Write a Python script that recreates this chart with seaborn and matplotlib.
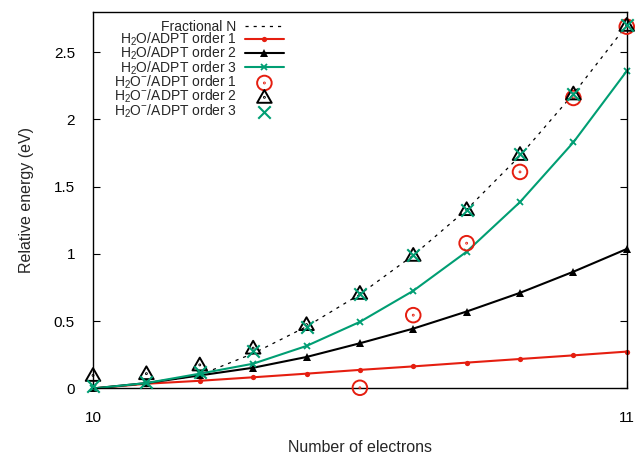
import matplotlib
matplotlib.use("Agg")
import matplotlib.pyplot as plt
import numpy as np
import seaborn as sns
from matplotlib.path import Path
from matplotlib.ticker import FormatStrFormatter


N_ELECTRONS = [10.0, 10.1, 10.2, 10.3, 10.4, 10.5, 10.6, 10.7, 10.8, 10.9, 11.0]

FRACTIONAL_N = [0.0, 0.035, 0.10, 0.26, 0.46, 0.70, 0.99, 1.33, 1.73, 2.19, 2.70]

NEUTRAL_ORDER_1 = [0.0, 0.035, 0.057, 0.083, 0.11, 0.138, 0.164, 0.192, 0.219, 0.246, 0.274]
NEUTRAL_ORDER_2 = [0.0, 0.04, 0.097, 0.154, 0.234, 0.336, 0.445, 0.572, 0.711, 0.868, 1.037]
NEUTRAL_ORDER_3 = [0.0, 0.04, 0.11, 0.184, 0.316, 0.495, 0.726, 1.017, 1.386, 1.83, 2.36]

ANION_ORDER_1 = [np.nan, np.nan, np.nan, np.nan, np.nan, 0.005, 0.545, 1.08, 1.61, 2.16, 2.69]
ANION_ORDER_2 = [0.097, 0.11, 0.175, 0.30, 0.475, 0.707, 0.99, 1.33, 1.74, 2.19, 2.70]
ANION_ORDER_3 = [0.015, 0.047, 0.12, 0.28, 0.46, 0.70, 0.99, 1.33, 1.74, 2.19, 2.70]

LABELS = [
    "Fractional N",
    r"H$_2$O/ADPT order 1",
    r"H$_2$O/ADPT order 2",
    r"H$_2$O/ADPT order 3",
    r"H$_2$O$^{-}$/ADPT order 1",
    r"H$_2$O$^{-}$/ADPT order 2",
    r"H$_2$O$^{-}$/ADPT order 3",
]

RED = "#e51e10"
GREEN = "#009e73"
BLACK = "#000000"


def dotted_marker(outline: Path) -> Path:
    # gnuplot-style open symbol with a tiny dot in the centre
    return Path.make_compound_path(outline, Path.circle((0, 0), radius=0.06))


CIRCLE_DOT = dotted_marker(Path.unit_circle())
TRIANGLE_DOT = dotted_marker(
    Path([(0, 1), (-1, -0.75), (1, -0.75), (0, 1)], closed=True)
)


sns.set_style("ticks")
plt.rcParams["font.family"] = ["Liberation Sans", "DejaVu Sans"]
plt.rcParams["mathtext.fontset"] = "custom"
plt.rcParams["mathtext.rm"] = "Liberation Sans"
plt.rcParams["mathtext.it"] = "Liberation Sans:italic"

fig = plt.figure(figsize=(6.35, 4.57), dpi=100)
ax = fig.add_axes([0.1465, 0.150, 0.8405, 0.824])

sns.lineplot(x=N_ELECTRONS, y=FRACTIONAL_N, ax=ax, color=BLACK, linewidth=0.9,
             linestyle=(0, (2.5, 4)), label=LABELS[0])
sns.lineplot(x=N_ELECTRONS, y=NEUTRAL_ORDER_1, ax=ax, color=RED, linewidth=1.5,
             marker="o", markersize=3.8, markeredgewidth=0, label=LABELS[1],
             clip_on=False)
sns.lineplot(x=N_ELECTRONS, y=NEUTRAL_ORDER_2, ax=ax, color=BLACK, linewidth=1.5,
             marker="^", markersize=5.5, markeredgewidth=0, label=LABELS[2],
             clip_on=False)
sns.lineplot(x=N_ELECTRONS, y=NEUTRAL_ORDER_3, ax=ax, color=GREEN, linewidth=1.5,
             marker="x", markersize=4.5, markeredgewidth=1.3,
             markeredgecolor=GREEN, label=LABELS[3], clip_on=False)

sns.scatterplot(x=N_ELECTRONS, y=ANION_ORDER_1, ax=ax, marker=CIRCLE_DOT, s=110,
                color=RED, facecolor="none", edgecolor=RED, linewidth=1.4,
                label=LABELS[4], zorder=3, clip_on=False)
sns.scatterplot(x=N_ELECTRONS, y=ANION_ORDER_2, ax=ax, marker=TRIANGLE_DOT, s=110,
                color=BLACK, facecolor="none", edgecolor=BLACK, linewidth=1.4,
                label=LABELS[5], zorder=3, clip_on=False)
sns.scatterplot(x=N_ELECTRONS, y=ANION_ORDER_3, ax=ax, marker="x", s=80,
                color=GREEN, linewidth=1.5, label=LABELS[6], zorder=4,
                clip_on=False)

ax.set_xlim(10, 11)
ax.set_ylim(0, 2.8)
ax.set_xticks([10, 11])
ax.set_yticks([0, 0.5, 1, 1.5, 2, 2.5])
ax.yaxis.set_major_formatter(FormatStrFormatter("%g"))
ax.tick_params(axis="both", direction="in", length=5, width=0.8, labelsize=11,
               colors=BLACK, right=True)
ax.tick_params(axis="x", pad=16)
ax.tick_params(axis="y", pad=13)
for spine in ax.spines.values():
    spine.set_visible(True)
    spine.set_linewidth(1.0)
    spine.set_color(BLACK)

ax.set_xlabel("Number of electrons", fontsize=11.5, labelpad=11)
ax.set_ylabel("Relative energy (eV)", fontsize=11.5, labelpad=14)

ax.legend(loc="upper right", bbox_to_anchor=(0.447, 0.957),
          bbox_transform=fig.transFigure, frameon=False, markerfirst=False,
          fontsize=10, labelspacing=-0.22, handlelength=2.8, handletextpad=0.6,
          borderpad=0, borderaxespad=0)

fig.savefig("out.png", dpi=100)
